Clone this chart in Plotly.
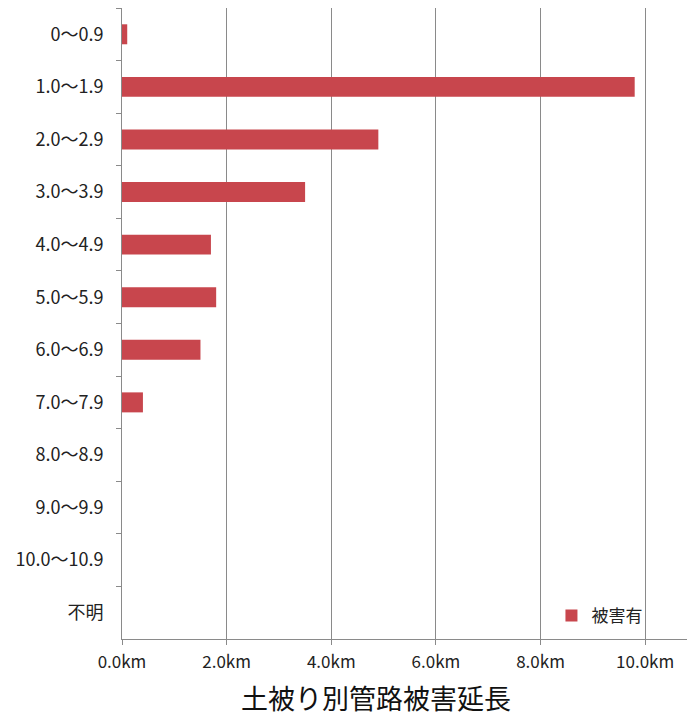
import plotly.graph_objects as go

# Cover depth classes (m) and damaged pipeline length (km)
depth_classes = ["0〜0.9", "1.0〜1.9", "2.0〜2.9", "3.0〜3.9", "4.0〜4.9", "5.0〜5.9",
                 "6.0〜6.9", "7.0〜7.9", "8.0〜8.9", "9.0〜9.9", "10.0〜10.9", "不明"]
damaged_km = [0.1, 9.8, 4.9, 3.5, 1.7, 1.8, 1.5, 0.4, 0, 0, 0, 0]
x_ticks = [0, 2, 4, 6, 8, 10]
x_tick_text = ["0.0km", "2.0km", "4.0km", "6.0km", "8.0km", "10.0km"]
chart_title = "土被り別管路被害延長"

FONT = "'Noto Sans CJK JP', 'Noto Sans', sans-serif"

fig = go.Figure()
fig.add_trace(go.Bar(
    y=depth_classes,
    x=damaged_km,
    orientation="h",
    name="被害有",
    marker=dict(color="#c8464d", line=dict(width=0)),
    width=0.38,
))

fig.add_annotation(
    text=chart_title, xref="paper", yref="paper",
    x=0.45, y=-0.092, xanchor="center", yanchor="middle",
    showarrow=False,
    font=dict(size=27, color="#111", family=FONT),
)

fig.update_layout(
    width=687, height=718,
    margin=dict(l=122, r=0, t=8, b=79),
    plot_bgcolor="white", paper_bgcolor="white",
    font=dict(family=FONT, size=17, color="#222"),
    showlegend=True,
    legend=dict(x=0.93, y=0.008, xanchor="right", yanchor="bottom",
                bgcolor="rgba(0,0,0,0)", font=dict(size=17, color="#222"),
                itemwidth=30),
    xaxis=dict(
        range=[0, 10.8],
        tickvals=x_ticks, ticktext=x_tick_text,
        showgrid=True, gridcolor="#8a8a8a", gridwidth=1,
        showline=True, linecolor="#8a8a8a", linewidth=1,
        ticks="outside", ticklen=5, tickcolor="#8a8a8a",
        ticklabelstandoff=3,
        tickfont=dict(size=17, color="#222"),
        zeroline=False,
    ),
    yaxis=dict(
        categoryorder="array", categoryarray=depth_classes,
        autorange="reversed",
        showline=True, linecolor="#8a8a8a", linewidth=1,
        ticks="outside", ticklen=5, tickcolor="#8a8a8a", tickson="boundaries",
        ticklabelstandoff=14,
        tickfont=dict(size=18, color="#222"),
        showgrid=False,
    ),
)

fig.write_html("out.html")
